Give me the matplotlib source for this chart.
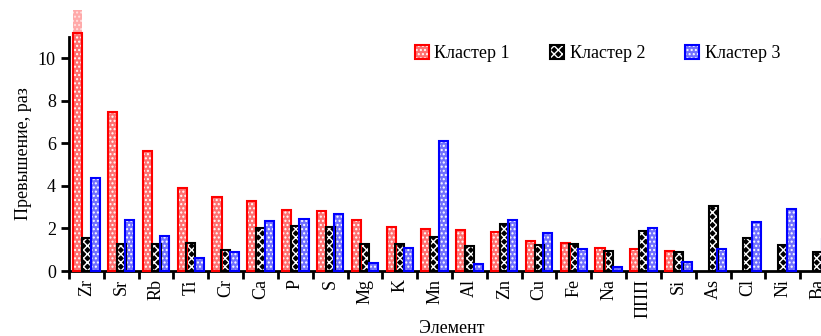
import numpy as np
import matplotlib
matplotlib.use("Agg")
import matplotlib.pyplot as plt
from matplotlib.patches import Patch
from matplotlib.legend_handler import HandlerTuple

plt.rcParams["font.family"] = ["Liberation Serif", "DejaVu Serif"]

elements = ["Zr", "Sr", "Rb", "Ti", "Cr", "Ca", "P", "S", "Mg", "K", "Mn",
            "Al", "Zn", "Cu", "Fe", "Na", "ППП", "Si", "As", "Cl", "Ni", "Ba"]
cluster1 = [12.25, 7.48, 5.63, 3.88, 3.46, 3.29, 2.85, 2.83, 2.39, 2.08, 1.97,
            1.91, 1.83, 1.42, 1.33, 1.08, 1.02, 0.94, 0, 0, 0, 0]
cluster2 = [1.56, 1.25, 1.27, 1.31, 0.99, 2.00, 2.13, 2.05, 1.28, 1.27, 1.60,
            1.16, 2.19, 1.24, 1.28, 0.92, 1.89, 0.91, 3.07, 1.56, 1.22, 0.89]
cluster3 = [4.38, 2.39, 1.66, 0.62, 0.88, 2.35, 2.46, 2.66, 0.39, 1.07, 6.12,
            0.34, 2.41, 1.78, 1.02, 0.20, 2.03, 0.42, 1.05, 2.31, 2.91, 1.53]
names = ["Кластер 1", "Кластер 2", "Кластер 3"]

# fill, pattern colour, outline, hatch
styles = [("#ff7070", "white", "red", "...."),
          ("black", "white", "black", "xxxx"),
          ("#7070ff", "white", "blue", "....")]
cap = 11.2  # edge of drawn frame for the bar that runs off the chart

fig = plt.figure(figsize=(8.21, 3.36), dpi=100)
ax = fig.add_axes([69 / 821, 65 / 336, 766 / 821, 234 / 336])

x = np.arange(len(elements))
w = 0.26
offs = [-0.25, 0, 0.25]
for vals, off, (fc, hc, ec, h) in zip([cluster1, cluster2, cluster3], offs, styles):
    vals = np.array(vals, dtype=float)
    pos = vals > 0
    shown = np.minimum(vals, cap)
    ax.bar(x[pos] + off, shown[pos], w, color=fc, edgecolor=hc, hatch=h,
           linewidth=0, clip_on=False, zorder=2)
    ax.bar(x[pos] + off, shown[pos], w, fill=False, edgecolor=ec, linewidth=1.5,
           clip_on=False, zorder=3)
    over = vals > cap
    if over.any():
        ax.bar(x[over] + off, vals[over] - cap, w, bottom=cap, color=fc,
               edgecolor=hc, hatch=h, linewidth=0, alpha=0.6, clip_on=False)

ax.set_xlim(-0.5, len(elements) - 0.5)
ax.set_ylim(0, 11)
ax.set_yticks([0, 2, 4, 6, 8, 10])
ax.set_xticks(np.arange(len(elements) + 1) - 0.5)
ax.set_xticklabels([])
ax.set_xticks(x, minor=True)
ax.set_xticklabels(elements, minor=True, rotation=90, fontsize=13)
ax.tick_params(axis="x", which="minor", length=0, pad=6)
ax.tick_params(axis="x", which="major", direction="out", length=6, width=2)
ax.tick_params(axis="y", direction="out", length=6, width=2, labelsize=13)
for s in ["top", "right"]:
    ax.spines[s].set_visible(False)
for s in ["left", "bottom"]:
    ax.spines[s].set_linewidth(2)

ax.set_ylabel("Превышение, раз", fontsize=13)
ax.set_xlabel("Элемент", fontsize=13, labelpad=1)

handles = [(Patch(facecolor=fc, edgecolor=hc, hatch=h, linewidth=0),
            Patch(fill=False, edgecolor=ec, linewidth=1.5))
           for fc, hc, ec, h in styles]
ax.legend(handles, names, ncol=3, loc="upper left", bbox_to_anchor=(0.43, 1.035),
          frameon=False, fontsize=13, handlelength=0.8, handleheight=0.8,
          columnspacing=2.2, handletextpad=0.3,
          handler_map={tuple: HandlerTuple(ndivide=1, pad=0)})

fig.savefig("out.png", dpi=100)
